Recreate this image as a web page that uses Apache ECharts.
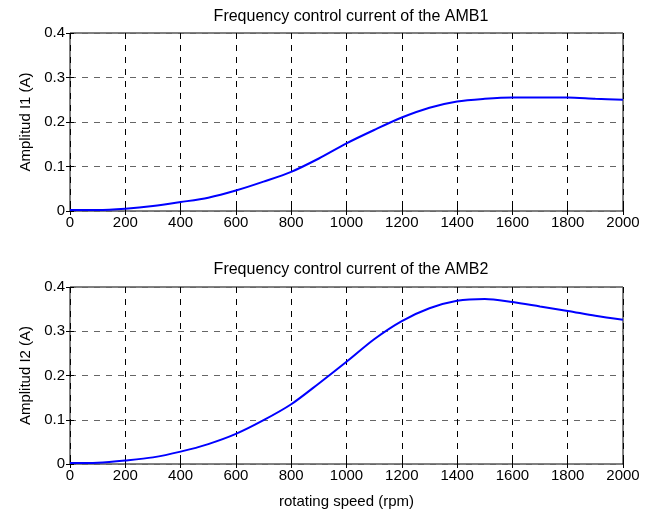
<!DOCTYPE html>
<html>
<head>
<meta charset="utf-8">
<script src="https://cdn.jsdelivr.net/npm/echarts@6/dist/echarts.min.js"></script>
<style>
  html, body { margin: 0; padding: 0; background: #fff; }
  #chart { width: 659px; height: 510px; }
</style>
</head>
<body>
<div id="chart"></div>
<script>
// rotating speed (rpm)
var speed = [0, 100, 200, 300, 400, 500, 600, 700, 800, 900, 1000,
  1100, 1200, 1300, 1400, 1500, 1600, 1700, 1800, 1900, 2000];
// AMB1 current amplitude (A)
var amb1 = [0.002, 0.002, 0.005, 0.011, 0.020, 0.030, 0.046, 0.066, 0.088, 0.118, 0.152,
  0.182, 0.210, 0.232, 0.246, 0.252, 0.255, 0.255, 0.255, 0.252, 0.250];
// AMB2 current amplitude (A)
var amb2 = [0.002, 0.003, 0.008, 0.015, 0.028, 0.045, 0.068, 0.099, 0.135, 0.182, 0.231,
  0.282, 0.323, 0.352, 0.369, 0.373, 0.366, 0.356, 0.346, 0.335, 0.326];

var font = 'Liberation Sans, Arial, sans-serif';
var chart = echarts.init(document.getElementById('chart'));

function pairs(ys) {
  return speed.map(function (x, i) { return [x, ys[i]]; });
}

var tick = { inside: true, length: 4, lineStyle: { color: '#000' } };

function xAxis(idx, name) {
  return {
    type: 'value', gridIndex: idx, min: 0, max: 2000, interval: 200,
    name: name, nameLocation: 'middle', nameGap: 30,
    nameTextStyle: { fontFamily: font, fontSize: 15, color: '#000' },
    axisLine: { show: false },
    axisTick: tick,
    axisLabel: { fontFamily: font, fontSize: 15, color: '#000', margin: 4,
      formatter: function (v) { return String(v); } },
    splitLine: { show: true, lineStyle: { color: '#000', type: [6, 6], width: 1 } }
  };
}

function xTop(idx) {
  return {
    type: 'value', gridIndex: idx, position: 'top', min: 0, max: 2000, interval: 200,
    axisLine: { show: false }, axisTick: tick, axisLabel: { show: false }, splitLine: { show: false }
  };
}

function yAxis(idx, name) {
  return {
    type: 'value', gridIndex: idx, min: 0, max: 0.4, interval: 0.1,
    name: name, nameLocation: 'middle', nameGap: 37,
    nameTextStyle: { fontFamily: font, fontSize: 15, color: '#000' },
    axisLine: { show: false },
    axisTick: tick,
    axisLabel: {
      fontFamily: font, fontSize: 15, color: '#000', margin: 5,
      formatter: function (v) { return v === 0 ? '0' : v.toFixed(1); }
    },
    splitLine: { show: true, lineStyle: { color: '#666', type: [6, 6], width: 1 } }
  };
}

function yRight(idx) {
  return {
    type: 'value', gridIndex: idx, position: 'right', min: 0, max: 0.4, interval: 0.1,
    axisLine: { show: false }, axisTick: tick, axisLabel: { show: false }, splitLine: { show: false }
  };
}

var titleStyle = { fontFamily: font, fontSize: 16, fontWeight: 'normal', color: '#000' };

var option = {
  backgroundColor: '#fff',
  animation: false,
  title: [
    { text: 'Frequency control current of the AMB1', left: 346, top: 4, textAlign: 'center',
      textStyle: titleStyle },
    { text: 'Frequency control current of the AMB2', left: 346, top: 257, textAlign: 'center',
      textStyle: titleStyle }
  ],
  grid: [
    { left: 70, top: 33, width: 553, height: 178, show: true, borderColor: '#000', borderWidth: 1 },
    { left: 70, top: 287, width: 553, height: 177, show: true, borderColor: '#000', borderWidth: 1 }
  ],
  xAxis: [xAxis(0, ''), xAxis(1, 'rotating speed (rpm)'), xTop(0), xTop(1)],
  yAxis: [yAxis(0, 'Amplitud I1 (A)'), yAxis(1, 'Amplitud I2 (A)'), yRight(0), yRight(1)],
  series: [
    { type: 'line', xAxisIndex: 0, yAxisIndex: 0, data: pairs(amb1), smooth: 0.3,
      showSymbol: false, lineStyle: { color: '#0000ff', width: 2 } },
    { type: 'line', xAxisIndex: 1, yAxisIndex: 1, data: pairs(amb2), smooth: 0.3,
      showSymbol: false, lineStyle: { color: '#0000ff', width: 2 } }
  ]
};
chart.setOption(option);
</script>
</body>
</html>
